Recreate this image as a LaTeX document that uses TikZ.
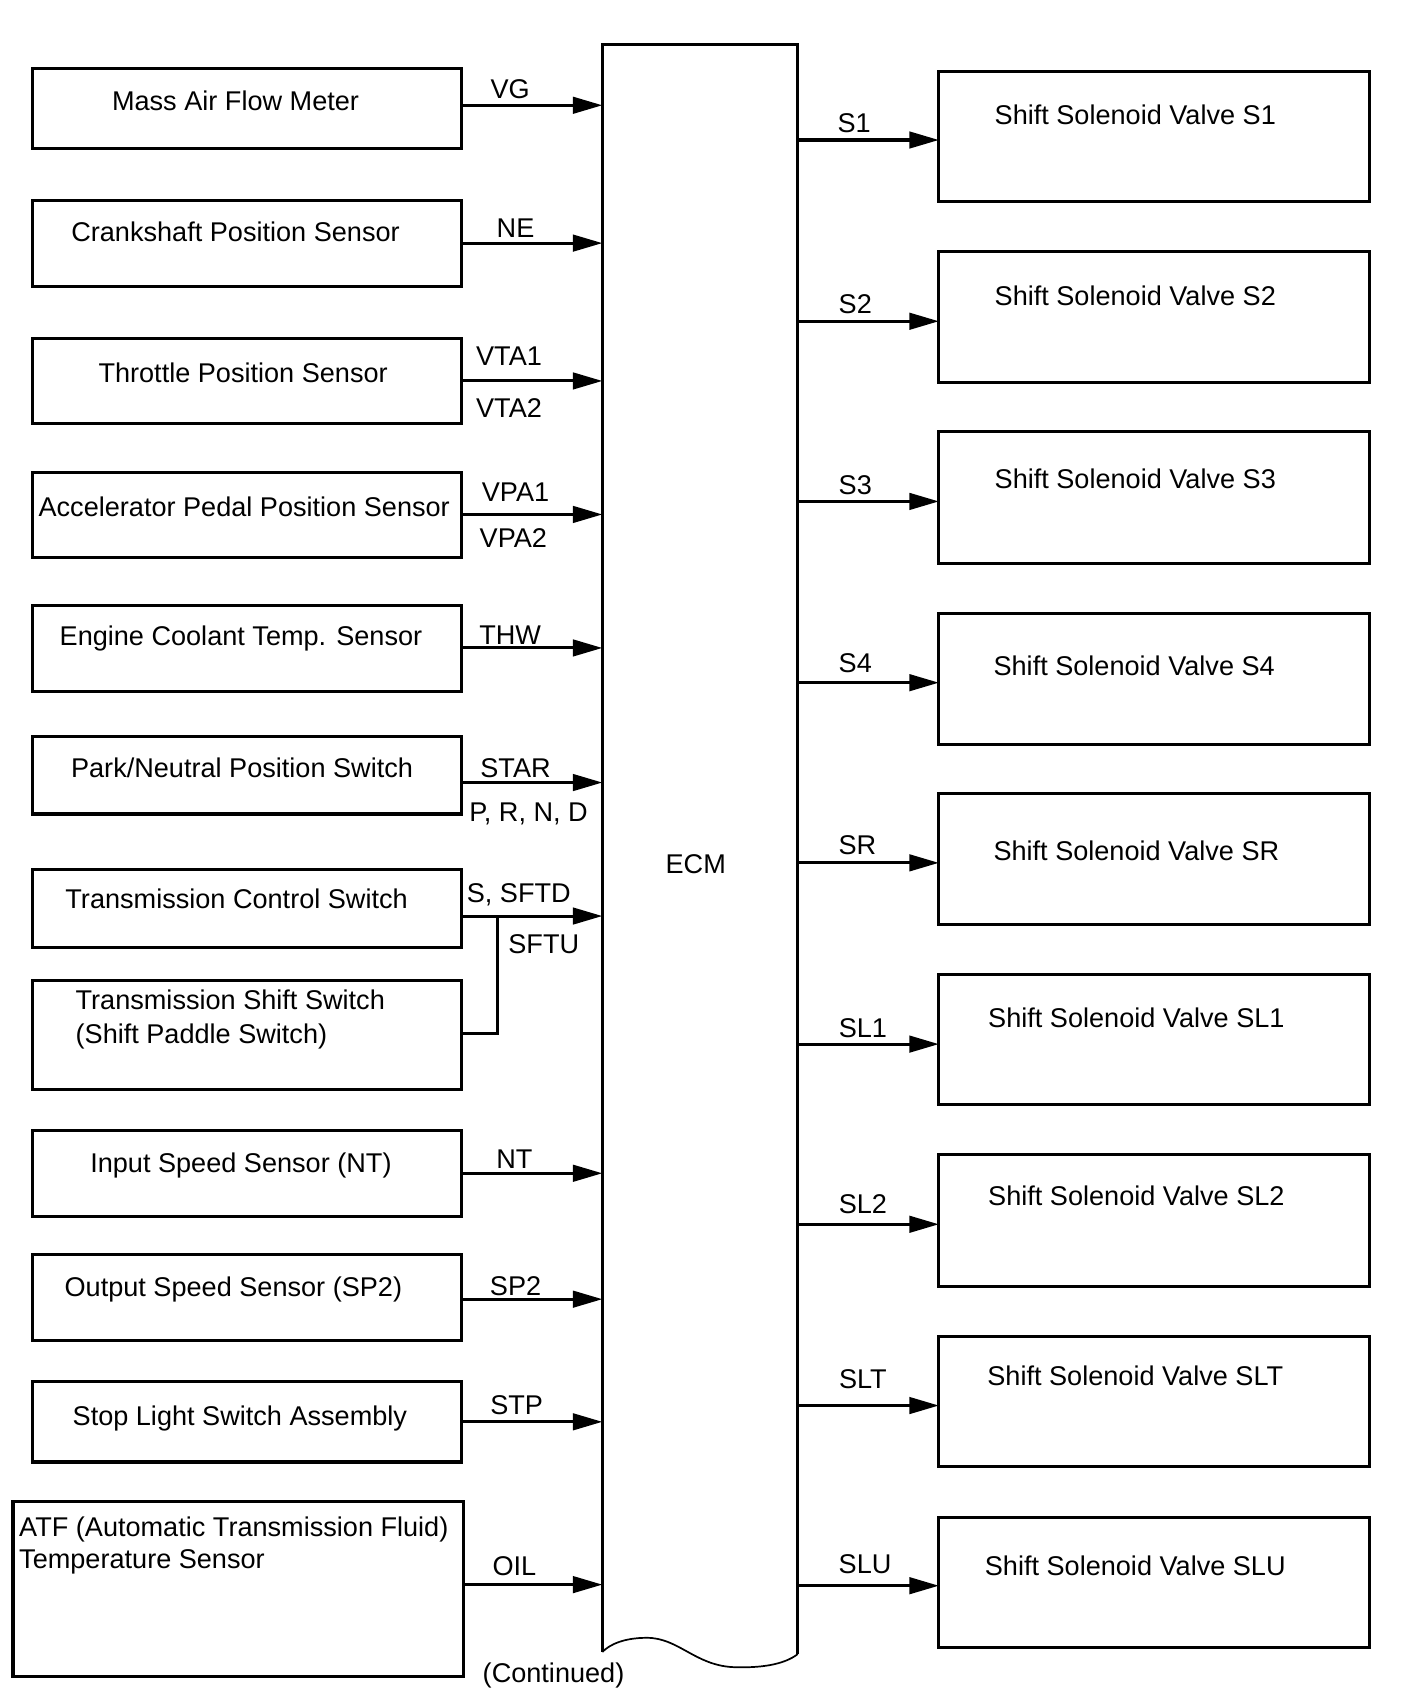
\documentclass[tikz,border=0pt]{standalone}
\usepackage{fontspec}
\setmainfont{Liberation Sans}
\usetikzlibrary{arrows.meta}
\tikzset{
  box/.style={draw, line width=0.8pt, rectangle, inner sep=0pt, outer sep=0pt},
  arr/.style={line width=0.8pt, -{Triangle[length=7.7pt,width=4.3pt]}},
  wire/.style={line width=0.8pt},
  txt/.style={inner sep=0pt, text height=0.72em, text depth=0pt, yshift=0.9pt, font=\fontsize{7.1}{8.6}\selectfont},
  ltxt/.style={txt, anchor=west},
}
\newcommand\bx[5]{\node[box, minimum width={(#4-#2)*0.01cm}, minimum height={(#5-#3)*0.01cm}] (#1) at ({(#2+#4)/2},{(#3+#5)/2}) {};}
\begin{document}
\begin{tikzpicture}[x=0.01cm, y=-0.01cm]
\useasboundingbox (0,0) rectangle (1297,1570);
% ECM
\node[inner sep=0pt, outer sep=0pt, minimum width={180*0.01cm}, minimum height={1481*0.01cm}] (ecm) at (645,781.5) {};
\draw[wire, line join=miter] (555,1522) -- (555,41) -- (735,41) -- (735,1524);
\draw[line width=0.45pt] (735,1524) .. controls (722,1534) and (700,1537) .. (675,1536)
  .. controls (640,1534) and (625,1509) .. (596,1509)
  .. controls (575,1509) and (562,1515) .. (555,1522);
\node[txt] (ecmlabel) at (641,795) {ECM};
\node[txt] (cont) at (510,1541) {(Continued)};
% left boxes
\bx{b1}{30}{63}{425}{137}
\bx{b2}{30}{185}{425}{264}
\bx{b3}{30}{312}{425}{390}
\bx{b4}{30}{435}{425}{514}
\bx{b5}{30}{558}{425}{637}
\bx{b6}{30}{679}{425}{750}
\bx{b7}{30}{801}{425}{873}
\bx{b8}{30}{903}{425}{1004}
\bx{b9}{30}{1042}{425}{1121}
\bx{b10}{30}{1156}{425}{1235}
\bx{b11}{30}{1273}{425}{1347}
\bx{b12}{12}{1383}{427}{1545}
\node[txt] (t1) at (217,92) {Mass Air Flow Meter};
\node[txt] (t2) at (217,213) {Crankshaft Position Sensor};
\node[txt] (t3) at (224,343) {Throttle Position Sensor};
\node[txt] (t4) at (225,466) {Accelerator Pedal Position Sensor};
\node[txt] (t5) at (222,585) {Engine Coolant Temp. Sensor};
\node[txt] (t6) at (223,707) {Park/Neutral Position Switch};
\node[txt] (t7) at (218,828) {Transmission Control Switch};
\node[ltxt] (t8a) at (69,921) {Transmission Shift Switch};
\node[ltxt] (t8b) at (69,952) {(Shift Paddle Switch)};
\node[txt] (t9) at (222,1071) {Input Speed Sensor (NT)};
\node[txt] (t10) at (215,1185) {Output Speed Sensor (SP2)};
\node[txt] (t11) at (221,1304) {Stop Light Switch Assembly};
\node[ltxt] (t12a) at (17,1406) {ATF (Automatic Transmission Fluid)};
\node[ltxt] (t12b) at (17,1436) {Temperature Sensor};
% left arrows
\draw[arr] (b1.east |- 0,97) -- (ecm.west |- 0,97);
\draw[arr] (b2.east |- 0,224) -- (ecm.west |- 0,224);
\draw[arr] (b3.east |- 0,351) -- (ecm.west |- 0,351);
\draw[arr] (b4.east |- 0,474) -- (ecm.west |- 0,474);
\draw[arr] (b5.east |- 0,597) -- (ecm.west |- 0,597);
\draw[arr] (b6.east |- 0,721) -- (ecm.west |- 0,721);
\draw[arr] (b7.east |- 0,844) -- (ecm.west |- 0,844);
\coordinate (j) at (458,844);
\draw[wire] (b8.east |- 0,952) -- (j |- 0,952) -- (j);
\draw[arr] (b9.east |- 0,1081) -- (ecm.west |- 0,1081);
\draw[arr] (b10.east |- 0,1197) -- (ecm.west |- 0,1197);
\draw[arr] (b11.east |- 0,1310) -- (ecm.west |- 0,1310);
\draw[arr] (b12.east |- 0,1460) -- (ecm.west |- 0,1460);
% left labels
\node[txt] (l1) at (470,81) {VG};
\node[txt] (l2) at (475,209) {NE};
\node[txt] (l3a) at (469,327) {VTA1};
\node[txt] (l3b) at (469,375) {VTA2};
\node[txt] (l4a) at (475,453) {VPA1};
\node[txt] (l4b) at (473,495) {VPA2};
\node[txt] (l5) at (470,584) {THW};
\node[txt] (l6a) at (475,707) {STAR};
\node[txt] (l6b) at (487,747) {P, R, N, D};
\node[txt] (l7a) at (478,822) {S, SFTD};
\node[txt] (l7b) at (501,869) {SFTU};
\node[txt] (l9) at (474,1067) {NT};
\node[txt] (l10) at (475,1184) {SP2};
\node[txt] (l11) at (476,1294) {STP};
\node[txt] (l12) at (474,1442) {OIL};
% right boxes
\bx{r1}{865}{66}{1262}{186}
\bx{r2}{865}{232}{1262}{352}
\bx{r3}{865}{398}{1262}{519}
\bx{r4}{865}{565}{1262}{686}
\bx{r5}{865}{731}{1262}{852}
\bx{r6}{865}{898}{1262}{1018}
\bx{r7}{865}{1064}{1262}{1185}
\bx{r8}{865}{1231}{1262}{1351}
\bx{r9}{865}{1398}{1262}{1518}
\node[txt] (u1) at (1046,105) {Shift Solenoid Valve S1};
\node[txt] (u2) at (1046,272) {Shift Solenoid Valve S2};
\node[txt] (u3) at (1046,441) {Shift Solenoid Valve S3};
\node[txt] (u4) at (1045,613) {Shift Solenoid Valve S4};
\node[txt] (u5) at (1047,783) {Shift Solenoid Valve SR};
\node[txt] (u6) at (1047,937) {Shift Solenoid Valve SL1};
\node[txt] (u7) at (1047,1101) {Shift Solenoid Valve SL2};
\node[txt] (u8) at (1046,1267) {Shift Solenoid Valve SLT};
\node[txt] (u9) at (1046,1442) {Shift Solenoid Valve SLU};
% right arrows
\draw[arr] (ecm.east |- 0,129) -- (r1.west |- 0,129);
\draw[arr] (ecm.east |- 0,296) -- (r2.west |- 0,296);
\draw[arr] (ecm.east |- 0,462) -- (r3.west |- 0,462);
\draw[arr] (ecm.east |- 0,629) -- (r4.west |- 0,629);
\draw[arr] (ecm.east |- 0,795) -- (r5.west |- 0,795);
\draw[arr] (ecm.east |- 0,962) -- (r6.west |- 0,962);
\draw[arr] (ecm.east |- 0,1128) -- (r7.west |- 0,1128);
\draw[arr] (ecm.east |- 0,1295) -- (r8.west |- 0,1295);
\draw[arr] (ecm.east |- 0,1461) -- (r9.west |- 0,1461);
% right labels
\node[txt] (v1) at (787,113) {S1};
\node[txt] (v2) at (788,279) {S2};
\node[txt] (v3) at (788,446) {S3};
\node[txt] (v4) at (788,610) {S4};
\node[txt] (v5) at (790,778) {SR};
\node[txt] (v6) at (795,946) {SL1};
\node[txt] (v7) at (795,1109) {SL2};
\node[txt] (v8) at (795,1270) {SLT};
\node[txt] (v9) at (797,1440) {SLU};
\end{tikzpicture}
\end{document}
